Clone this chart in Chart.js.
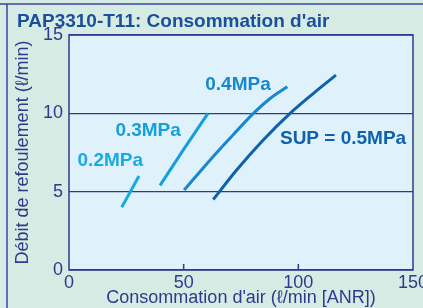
<!DOCTYPE html>
<html><head><meta charset="utf-8"><title>PAP3310-T11</title>
<script src="https://cdn.jsdelivr.net/npm/chart.js"></script>
<style>
html,body{margin:0;padding:0;background:#d6ebe3;}
#wrap{width:423px;height:308px;position:relative;}
</style></head>
<body>
<div id="wrap"><canvas id="airChart" width="423" height="308"></canvas></div>
<script>
// values
const xTicks = [0, 50, 100, 150];
const yTicks = [0, 5, 10, 15];
const seriesNames = ['0.2MPa', '0.3MPa', '0.4MPa', 'SUP = 0.5MPa'];
const p02X = [23, 30.5];
const p02Y = [4.0, 6.0];
const p03X = [39.7, 50, 60.6];
const p03Y = [5.4, 7.7, 10.0];
const p04X = [50.2, 62.9, 71.7, 80.4, 87.7, 95.2];
const p04Y = [5.1, 7.25, 8.65, 10.0, 10.95, 11.7];
const p05X = [62.9, 73.1, 84.7, 96.4, 106.6, 116.4];
const p05Y = [4.5, 6.38, 8.3, 10.0, 11.28, 12.44];
const labelX = [18, 34.5, 73.7, 119.5];
const labelY = [7.0, 8.9, 11.8, 8.4];
const colors = ['#1aa9e2', '#159fdb', '#1688cb', '#0f62aa'];

const ink = '#2d3a8e';
const font = '"Liberation Sans", Arial, sans-serif';
const pts = (xs, ys) => xs.map((x, i) => ({x: x, y: ys[i]}));
const lines = [pts(p02X, p02Y), pts(p03X, p03Y), pts(p04X, p04Y), pts(p05X, p05Y)];

const decor = {
  id: 'decor',
  beforeDraw(chart) {
    const {ctx, chartArea: a} = chart;
    ctx.save();
    ctx.fillStyle = '#dff1fa';
    ctx.fillRect(a.left, a.top, a.right - a.left, a.bottom - a.top);
    // outer frame
    ctx.strokeStyle = '#3b46a0';
    ctx.lineWidth = 1.5;
    ctx.beginPath();
    ctx.moveTo(0, 4); ctx.lineTo(423, 4);
    ctx.moveTo(7, 4); ctx.lineTo(7, 308);
    ctx.stroke();
    // title
    ctx.fillStyle = '#1a4f9e';
    ctx.font = 'bold 19px ' + font;
    ctx.textBaseline = 'middle';
    ctx.fillText('PAP3310-T11: Consommation d\'air', 17, 22);
    ctx.restore();
  },
  afterDatasetsDraw(chart) {
    const {ctx, chartArea: a, scales: {x, y}} = chart;
    ctx.save();
    ctx.strokeStyle = ink;
    ctx.lineWidth = 1.5;
    ctx.strokeRect(a.left, a.top, a.right - a.left, a.bottom - a.top);
    ctx.beginPath();
    xTicks.slice(1, -1).forEach(v => {
      const px = x.getPixelForValue(v);
      ctx.moveTo(px, a.bottom); ctx.lineTo(px, a.bottom - 6);
    });
    ctx.stroke();
    ctx.font = 'bold 19px ' + font;
    ctx.textAlign = 'center';
    ctx.textBaseline = 'middle';
    seriesNames.forEach((n, i) => {
      ctx.fillStyle = colors[i];
      ctx.fillText(n, x.getPixelForValue(labelX[i]), y.getPixelForValue(labelY[i]));
    });
    ctx.restore();
  }
};

new Chart(document.getElementById('airChart'), {
  type: 'scatter',
  data: {
    datasets: lines.map((d, i) => ({
      label: seriesNames[i],
      data: d,
      showLine: true,
      borderColor: colors[i],
      borderWidth: 3,
      pointRadius: 0,
      cubicInterpolationMode: 'monotone',
      fill: false
    }))
  },
  options: {
    responsive: false,
    animation: false,
    layout: {padding: {top: 35, right: 10, left: 13, bottom: 0}},
    plugins: {legend: {display: false}, tooltip: {enabled: false}},
    scales: {
      x: {
        type: 'linear', min: 0, max: 150,
        afterBuildTicks: s => { s.ticks = xTicks.map(v => ({value: v})); },
        afterFit: s => { s.height = 38; s.paddingLeft = 0; s.paddingRight = 0; },
        grid: {display: false, drawTicks: false},
        border: {display: false},
        ticks: {color: ink, padding: 3, maxRotation: 0, font: {family: font, size: 18, lineHeight: 1.1}},
        title: {display: true, text: 'Consommation d\'air (ℓ/min [ANR])', color: ink, padding: 0,
          font: {family: font, size: 18, lineHeight: 1.1}}
      },
      y: {
        type: 'linear', min: 0, max: 15,
        afterBuildTicks: s => { s.ticks = yTicks.map(v => ({value: v})); },
        afterFit: s => { s.width = 56; s.paddingTop = 0; s.paddingBottom = 0; },
        grid: {color: ink, lineWidth: 1.2, drawTicks: false},
        border: {display: false},
        ticks: {color: ink, padding: 6, font: {family: font, size: 18}},
        title: {display: true, text: 'Débit de refoulement (ℓ/min)', color: ink, padding: 0,
          font: {family: font, size: 18, lineHeight: 1.1}}
      }
    }
  },
  plugins: [decor]
});
</script></body></html>
